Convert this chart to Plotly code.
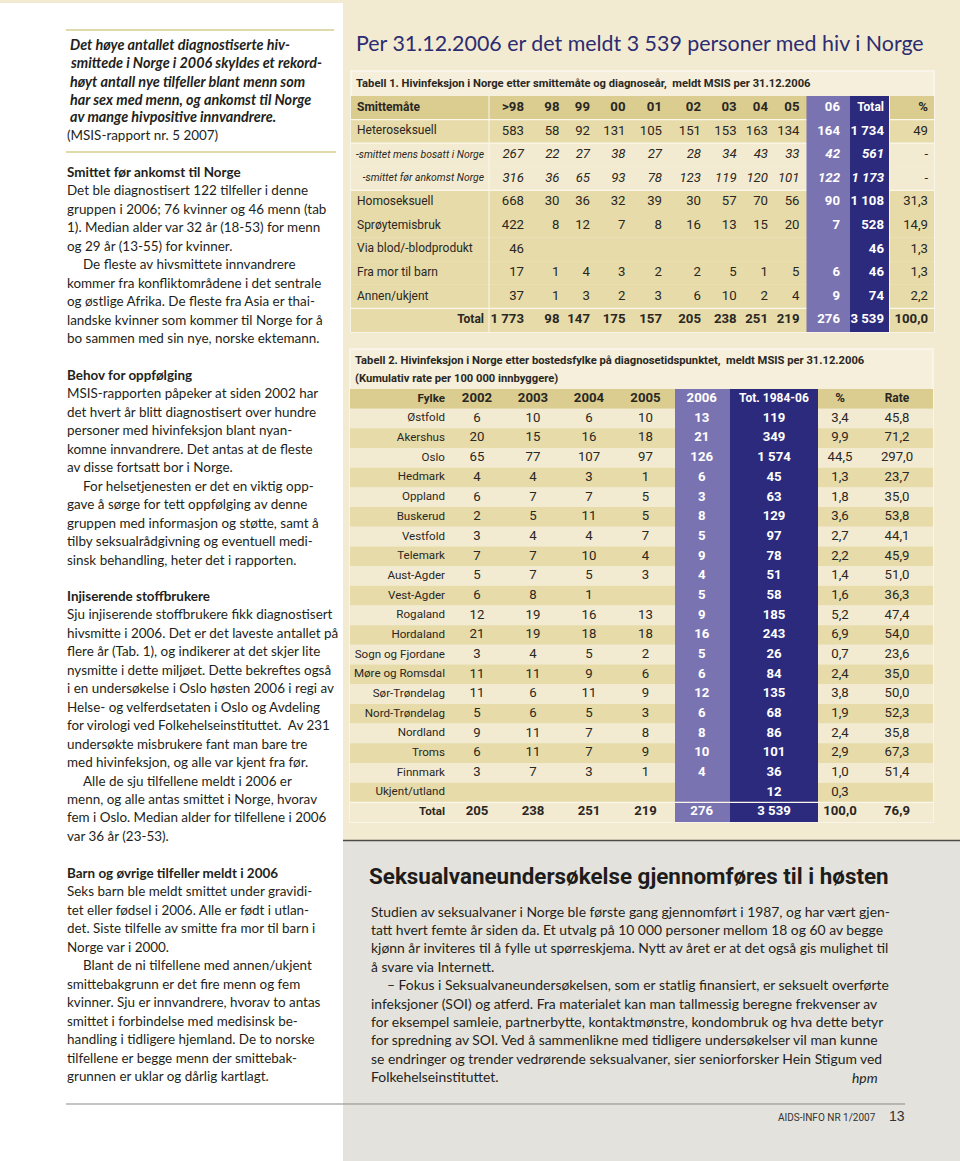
import plotly.graph_objects as go

W, H = 960, 1161

# ------------------------------------------------------------------ DATA
page_title = "Per 31.12.2006 er det meldt 3 539 personer med hiv i Norge"

t1_title = "Tabell 1. Hivinfeksjon i Norge etter smittemåte og diagnoseår,  meldt MSIS per 31.12.2006"
t1_head_label = "Smittemåte"
t1_years = [">98", "98", "99", "00", "01", "02", "03", "04", "05", "06"]
t1_rows = ["Heteroseksuell", "-smittet mens bosatt i Norge", "-smittet før ankomst Norge",
           "Homoseksuell", "Sprøytemisbruk", "Via blod/-blodprodukt", "Fra mor til barn",
           "Annen/ukjent", "Total"]
t1_values = [
    [583, 58, 92, 131, 105, 151, 153, 163, 134, 164],
    [267, 22, 27, 38, 27, 28, 34, 43, 33, 42],
    [316, 36, 65, 93, 78, 123, 119, 120, 101, 122],
    [668, 30, 36, 32, 39, 30, 57, 70, 56, 90],
    [422, 8, 12, 7, 8, 16, 13, 15, 20, 7],
    [46, None, None, None, None, None, None, None, None, None],
    [17, 1, 4, 3, 2, 2, 5, 1, 5, 6],
    [37, 1, 3, 2, 3, 6, 10, 2, 4, 9],
    [1773, 98, 147, 175, 157, 205, 238, 251, 219, 276],
]
t1_total = [1734, 561, 1173, 1108, 528, 46, 46, 74, 3539]
t1_pct = [49, None, None, 31.3, 14.9, 1.3, 1.3, 2.2, 100.0]

t2_title = "Tabell 2. Hivinfeksjon i Norge etter bostedsfylke på diagnosetidspunktet,  meldt MSIS per 31.12.2006"
t2_subtitle = "(Kumulativ rate per 100 000 innbyggere)"
t2_head = ["Fylke", "2002", "2003", "2004", "2005", "2006", "Tot. 1984-06", "%", "Rate"]
t2_counties = ["Østfold", "Akershus", "Oslo", "Hedmark", "Oppland", "Buskerud", "Vestfold",
               "Telemark", "Aust-Agder", "Vest-Agder", "Rogaland", "Hordaland", "Sogn og Fjordane",
               "Møre og Romsdal", "Sør-Trøndelag", "Nord-Trøndelag", "Nordland", "Troms",
               "Finnmark", "Ukjent/utland", "Total"]
t2_2002 = [6, 20, 65, 4, 6, 2, 3, 7, 5, 6, 12, 21, 3, 11, 11, 5, 9, 6, 3, None, 205]
t2_2003 = [10, 15, 77, 4, 7, 5, 4, 7, 7, 8, 19, 19, 4, 11, 6, 6, 11, 11, 7, None, 238]
t2_2004 = [6, 16, 107, 3, 7, 11, 4, 10, 5, 1, 16, 18, 5, 9, 11, 5, 7, 7, 3, None, 251]
t2_2005 = [10, 18, 97, 1, 5, 5, 7, 4, 3, None, 13, 18, 2, 6, 9, 3, 8, 9, 1, None, 219]
t2_2006 = [13, 21, 126, 6, 3, 8, 5, 9, 4, 5, 9, 16, 5, 6, 12, 6, 8, 10, 4, None, 276]
t2_tot = [119, 349, 1574, 45, 63, 129, 97, 78, 51, 58, 185, 243, 26, 84, 135, 68, 86, 101, 36, 12, 3539]
t2_pct = [3.4, 9.9, 44.5, 1.3, 1.8, 3.6, 2.7, 2.2, 1.4, 1.6, 5.2, 6.9, 0.7, 2.4, 3.8, 1.9, 2.4, 2.9, 1.0, 0.3, 100.0]
t2_rate = [45.8, 71.2, 297.0, 23.7, 35.0, 53.8, 44.1, 45.9, 51.0, 36.3, 47.4, 54.0, 23.6, 35.0,
           50.0, 52.3, 35.8, 67.3, 51.4, None, 76.9]

quote_lines = ["Det høye antallet diagnostiserte hiv-",
               "smittede i Norge i 2006 skyldes et rekord-",
               "høyt antall nye tilfeller blant menn som",
               "har sex med menn, og ankomst til Norge",
               "av mange hivpositive innvandrere."]
quote_source = "(MSIS-rapport nr. 5 2007)"

# ">" marks a paragraph indent
sections = [
    ("Smittet før ankomst til Norge", [
        "Det ble diagnostisert 122 tilfeller i denne",
        "gruppen i 2006; 76 kvinner og 46 menn (tab",
        "1). Median alder var 32 år (18-53) for menn",
        "og 29 år (13-55) for kvinner.",
        ">De fleste av hivsmittete innvandrere",
        "kommer fra konfliktområdene i det sentrale",
        "og østlige Afrika. De fleste fra Asia er thai-",
        "landske kvinner som kommer til Norge for å",
        "bo sammen med sin nye, norske ektemann."]),
    ("Behov for oppfølging", [
        "MSIS-rapporten påpeker at siden 2002 har",
        "det hvert år blitt diagnostisert over hundre",
        "personer med hivinfeksjon blant nyan-",
        "komne innvandrere. Det antas at de fleste",
        "av disse fortsatt bor i Norge.",
        ">For helsetjenesten er det en viktig opp-",
        "gave å sørge for tett oppfølging av denne",
        "gruppen med informasjon og støtte, samt å",
        "tilby seksualrådgivning og eventuell medi-",
        "sinsk behandling, heter det i rapporten."]),
    ("Injiserende stoffbrukere", [
        "Sju injiserende stoffbrukere fikk diagnostisert",
        "hivsmitte i 2006. Det er det laveste antallet på",
        "flere år (Tab. 1), og indikerer at det skjer lite",
        "nysmitte i dette miljøet. Dette bekreftes også",
        "i en undersøkelse i Oslo høsten 2006 i regi av",
        "Helse- og velferdsetaten i Oslo og Avdeling",
        "for virologi ved Folkehelseinstituttet.  Av 231",
        "undersøkte misbrukere fant man bare tre",
        "med hivinfeksjon, og alle var kjent fra før.",
        ">Alle de sju tilfellene meldt i 2006 er",
        "menn, og alle antas smittet i Norge, hvorav",
        "fem i Oslo. Median alder for tilfellene i 2006",
        "var 36 år (23-53)."]),
    ("Barn og øvrige tilfeller meldt i 2006", [
        "Seks barn ble meldt smittet under gravidi-",
        "tet eller fødsel i 2006. Alle er født i utlan-",
        "det. Siste tilfelle av smitte fra mor til barn i",
        "Norge var i 2000.",
        ">Blant de ni tilfellene med annen/ukjent",
        "smittebakgrunn er det fire menn og fem",
        "kvinner. Sju er innvandrere, hvorav to antas",
        "smittet i forbindelse med medisinsk be-",
        "handling i tidligere hjemland. De to norske",
        "tilfellene er begge menn der smittebak-",
        "grunnen er uklar og dårlig kartlagt."]),
]

box_heading = "Seksualvaneundersøkelse gjennomføres til i høsten"
box_lines = [
    "Studien av seksualvaner i Norge ble første gang gjennomført i 1987, og har vært gjen-",
    "tatt hvert femte år siden da. Et utvalg på 10 000 personer mellom 18 og 60 av begge",
    "kjønn år inviteres til å fylle ut spørreskjema. Nytt av året er at det også gis mulighet til",
    "å svare via Internett.",
    ">– Fokus i Seksualvaneundersøkelsen, som er statlig finansiert, er seksuelt overførte",
    "infeksjoner (SOI) og atferd. Fra materialet kan man tallmessig beregne frekvenser av",
    "for eksempel samleie, partnerbytte, kontaktmønstre, kondombruk og hva dette betyr",
    "for spredning av SOI. Ved å sammenlikne med tidligere undersøkelser vil man kunne",
    "se endringer og trender vedrørende seksualvaner, sier seniorforsker Hein Stigum ved",
    "Folkehelseinstituttet."]
box_sign = "hpm"
footer_text = "AIDS-INFO NR 1/2007"
footer_page = "13"

# ------------------------------------------------------------------ STYLE / LAYOUT
BODY_FONT = "Lato"
COND_FONT = "Roboto"
INK = "#231f20"
CREAM = "#f2ebd2"
BOX_BG = "#f5efdb"
GRAY_BG = "#e4e2dc"
KHAKI_HEAD = "#dacd8f"
KHAKI = "#e6dba9"
LIGHT = "#f3ebd1"
PURPLE = "#7a73b1"
NAVY = "#2b2a7c"
NAVY_TEXT = "#2d2c70"
TBL_TEXT = "#2a2723"

NUM_SIZE = 13.2      # digits
LBL_SIZE = 12        # row labels / word headers (table 1)
LBL2_SIZE = 11.6     # row labels (table 2)
SUB_SIZE = 10.4      # italic sub-row labels
TTL_SIZE = 11.2      # table titles
BODY_SIZE = 13.45


def X(px):
    return px / W


def Y(py):
    return 1 - py / H


def fmt(v, blank=""):
    if v is None:
        return blank
    if isinstance(v, float):
        return f"{v:.1f}".replace(".", ",")
    return f"{v:,}".replace(",", "\u00a0")


fig = go.Figure()
shapes = []
annotations = []


def rect(x0, y0, x1, y1, color, line=None, lw=0):
    shapes.append(dict(type="rect", xref="paper", yref="paper", x0=X(x0), x1=X(x1), y0=Y(y1), y1=Y(y0),
                       fillcolor=color, line=dict(color=line or color, width=lw), layer="below"))


def hline(x0, x1, y, color, width):
    shapes.append(dict(type="line", xref="paper", yref="paper", x0=X(x0), x1=X(x1), y0=Y(y), y1=Y(y),
                       line=dict(color=color, width=width), layer="below"))


def text(x, y, s, size, family=BODY_FONT, color=INK, anchor="left"):
    annotations.append(dict(x=X(x), y=Y(y), xref="paper", yref="paper", text=s, showarrow=False,
                            xanchor=anchor, yanchor="middle", borderpad=0,
                            font=dict(family=family, size=size, color=color)))


# page backgrounds
rect(0, 0, 343, 3, CREAM)
rect(343, 0, 960, 840, CREAM)
rect(343, 840, 960, 1161, GRAY_BG)
hline(343, 960, 840.5, "#4d4b46", 1.5)
hline(66, 334, 30, "#d6cc8e", 1.5)
hline(66, 336, 152, "#d6cc8e", 1.5)
hline(66, 905, 1104, "#8a8985", 1)

# ------------------------------------------------------------------ LEFT COLUMN
LX = 66
PITCH = 18.45
for i, ln in enumerate(quote_lines):
    text(LX + 3, 45 + i * 18, f"<b><i>{ln}</i></b>", 14.4)
text(LX, 135, quote_source, BODY_SIZE)

sec_starts = [172, 375, 596, 873]
for (head, lines), y0 in zip(sections, sec_starts):
    text(LX, y0, f"<b>{head}</b>", BODY_SIZE)
    for i, ln in enumerate(lines):
        indent = 16 if ln.startswith(">") else 0
        text(LX + indent, y0 + (i + 1) * PITCH, ln.lstrip(">"), BODY_SIZE)

# ------------------------------------------------------------------ RIGHT COLUMN TITLE
text(355, 43, page_title, 21.4, color=NAVY_TEXT)

# ------------------------------------------------------------------ TABLE 1
T1_X0, T1_X1, T1_TOP, T1_BOT = 351, 934, 96, 332
rect(T1_X0, 71, T1_X1, T1_BOT, BOX_BG, "#fbf8ef", 1.5)
text(355, 83, f"<b>{t1_title}</b>", TTL_SIZE, family=COND_FONT, color=TBL_TEXT)

n1 = len(t1_rows) + 1
fig.update_layout(
    xaxis=dict(domain=[X(T1_X0), X(T1_X1)], range=[T1_X0, T1_X1], visible=False, fixedrange=True,
               anchor="y"),
    yaxis=dict(domain=[Y(T1_BOT), Y(T1_TOP)], range=[n1 - 0.5, -0.5], visible=False, fixedrange=True,
               anchor="x"),
)

row_kind1 = ["head", "main", "sub", "sub", "main", "main", "main", "main", "main", "total"]
band1 = {"head": KHAKI_HEAD, "main": KHAKI, "sub": LIGHT, "total": KHAKI}
for i, k in enumerate(row_kind1):
    shapes.append(dict(type="rect", xref="x", yref="y", x0=T1_X0, x1=T1_X1, y0=i - 0.5, y1=i + 0.5,
                       fillcolor=band1[k], line=dict(width=0), layer="below"))
for yb in [0.5, 1.5, 3.5, 8.5]:
    shapes.append(dict(type="line", xref="x", yref="y", x0=T1_X0, x1=T1_X1, y0=yb, y1=yb,
                       line=dict(color="#fbf7ea", width=1.2), layer="below"))
T1_PURPLE = (806.5, 850)
T1_NAVY = (850, 889.5)
shapes.append(dict(type="rect", xref="x", yref="y", x0=T1_PURPLE[0], x1=T1_PURPLE[1], y0=-0.5, y1=n1 - 0.5,
                   fillcolor=PURPLE, line=dict(width=0), layer="below"))
shapes.append(dict(type="rect", xref="x", yref="y", x0=T1_NAVY[0], x1=T1_NAVY[1], y0=-0.5, y1=n1 - 0.5,
                   fillcolor=NAVY, line=dict(width=0), layer="below"))
for xv in [489, 889.5]:
    shapes.append(dict(type="line", xref="x", yref="y", x0=xv, x1=xv, y0=-0.5, y1=n1 - 0.5,
                       line=dict(color="#fbf7ea", width=1), layer="below"))

T1_COL_RIGHT = [524, 559.5, 590, 625.5, 662, 701, 736.6, 768, 799.5, 840]
T1_TOTAL_RIGHT = 884
T1_PCT_RIGHT = 928
T1_LABEL_LEFT = 357
T1_LABEL_RIGHT = 484


def tr(xs, ys, texts, pos, color, sizes, xa="x", ya="y"):
    fig.add_trace(go.Scatter(x=xs, y=ys, text=texts, mode="text", textposition=pos,
                             textfont=dict(family=COND_FONT, size=sizes, color=color),
                             hoverinfo="skip", showlegend=False, xaxis=xa, yaxis=ya, cliponaxis=False))


def style(s, kind, bold=False):
    if kind == "head" or kind == "total" or bold:
        s = f"<b>{s}</b>"
    if kind == "sub":
        s = f"<i>{s}</i>"
    return s


def size_of(s):
    # digits keep a larger size, words are set smaller to mimic a condensed face
    return NUM_SIZE if any(c.isdigit() for c in s) or s in ("-", "%") else LBL_SIZE


# labels
left_rows = [i for i, k in enumerate(row_kind1) if k in ("head", "main")]
right_rows = [i for i, k in enumerate(row_kind1) if k in ("sub", "total")]
labels1 = [t1_head_label] + t1_rows
tr([T1_LABEL_LEFT] * len(left_rows), left_rows,
   [style(labels1[i], row_kind1[i]) for i in left_rows], "middle right", TBL_TEXT, LBL_SIZE)
tr([T1_LABEL_RIGHT] * len(right_rows), right_rows,
   [style(labels1[i], row_kind1[i]) for i in right_rows], "middle left", TBL_TEXT,
   [SUB_SIZE if row_kind1[i] == "sub" else LBL_SIZE for i in right_rows])

# year columns
for j, yr in enumerate(t1_years):
    col_vals = [yr] + [fmt(r[j]) for r in t1_values]
    is_hl = j == len(t1_years) - 1
    texts = [style(v, row_kind1[i], bold=is_hl) for i, v in enumerate(col_vals)]
    tr([T1_COL_RIGHT[j]] * n1, list(range(n1)), texts, "middle left",
       "white" if is_hl else TBL_TEXT, [size_of(v) for v in col_vals])

tot_vals = ["Total"] + [fmt(v) for v in t1_total]
tr([T1_TOTAL_RIGHT] * n1, list(range(n1)),
   [style(v, row_kind1[i], bold=True) for i, v in enumerate(tot_vals)],
   "middle left", "white", [size_of(v) for v in tot_vals])
pct_vals = ["%"] + [fmt(v, "-") for v in t1_pct]
tr([T1_PCT_RIGHT] * n1, list(range(n1)),
   [style(v, row_kind1[i]) for i, v in enumerate(pct_vals)],
   "middle left", TBL_TEXT, [size_of(v) for v in pct_vals])

# ------------------------------------------------------------------ TABLE 2
T2_X0, T2_X1, T2_TOP, T2_BOT = 350, 933, 389, 822
rect(T2_X0, 349, T2_X1, T2_BOT, BOX_BG, "#fbf8ef", 1.5)
text(354, 360, f"<b>{t2_title}</b>", TTL_SIZE, family=COND_FONT, color=TBL_TEXT)
text(354, 379, f"<b>{t2_subtitle}</b>", TTL_SIZE, family=COND_FONT, color=TBL_TEXT)

n2 = len(t2_counties) + 1
fig.update_layout(
    xaxis2=dict(domain=[X(T2_X0), X(T2_X1)], range=[T2_X0, T2_X1], visible=False, fixedrange=True,
                anchor="y2"),
    yaxis2=dict(domain=[Y(T2_BOT), Y(T2_TOP)], range=[n2 - 0.5, -0.5], visible=False, fixedrange=True,
                anchor="x2"),
)
for i in range(n2):
    col = KHAKI_HEAD if i == 0 else (LIGHT if i % 2 == 1 else KHAKI)
    shapes.append(dict(type="rect", xref="x2", yref="y2", x0=T2_X0, x1=T2_X1, y0=i - 0.5, y1=i + 0.5,
                       fillcolor=col, line=dict(width=0), layer="below"))
T2_PURPLE = (675, 730)
T2_NAVY = (730, 818)
shapes.append(dict(type="rect", xref="x2", yref="y2", x0=T2_PURPLE[0], x1=T2_PURPLE[1], y0=-0.5,
                   y1=n2 - 0.5, fillcolor=PURPLE, line=dict(width=0), layer="below"))
shapes.append(dict(type="rect", xref="x2", yref="y2", x0=T2_NAVY[0], x1=T2_NAVY[1], y0=-0.5,
                   y1=n2 - 0.5, fillcolor=NAVY, line=dict(width=0), layer="below"))
shapes.append(dict(type="line", xref="x2", yref="y2", x0=T2_X0, x1=T2_X1, y0=n2 - 1.5, y1=n2 - 1.5,
                   line=dict(color="#fbf7ea", width=1.2), layer="below"))

T2_LABEL_RIGHT = 445
T2_COL_CENTER = [477, 533, 589, 645.5, 701.7, 774, 840, 897]
kind2 = ["head"] + ["main"] * (n2 - 2) + ["total"]
lab2 = [t2_head[0]] + t2_counties
tr([T2_LABEL_RIGHT] * n2, list(range(n2)),
   [style(s, kind2[i]) for i, s in enumerate(lab2)],
   "middle left", TBL_TEXT, LBL2_SIZE, "x2", "y2")
t2_cols = [t2_2002, t2_2003, t2_2004, t2_2005, t2_2006, t2_tot, t2_pct, t2_rate]
for j, colv in enumerate(t2_cols):
    hl = j in (4, 5)
    vals = [t2_head[j + 1]] + [fmt(v) for v in colv]
    tr([T2_COL_CENTER[j]] * n2, list(range(n2)),
       [style(v, kind2[i], bold=hl) for i, v in enumerate(vals)],
       "middle center", "white" if hl else TBL_TEXT,
       [LBL_SIZE if (i == 0 and j == 5) else size_of(v) for i, v in enumerate(vals)], "x2", "y2")

# ------------------------------------------------------------------ BOTTOM BOX
text(368, 876, f"<b>{box_heading}</b>", 22.4, family=COND_FONT, color="#1e1c1a")
for i, ln in enumerate(box_lines):
    indent = 16 if ln.startswith(">") else 0
    text(370 + indent, 911 + i * 18.4, ln.lstrip(">"), 13.9)
text(879, 1077, f"<i>{box_sign}</i>", 13.9, anchor="right")
text(877, 1117, footer_text, 10, family=COND_FONT, color="#333333", anchor="right")
text(888, 1116, footer_page, 14, family="Liberation Sans", color="#333333")

fig.update_layout(
    width=W, height=H, margin=dict(l=0, r=0, t=0, b=0),
    paper_bgcolor="white", plot_bgcolor="rgba(0,0,0,0)",
    shapes=shapes, annotations=annotations, showlegend=False,
)

fig.write_html("out.html", config={"displayModeBar": False},
               post_script="document.body.style.margin='0';document.body.style.overflow='hidden';")
